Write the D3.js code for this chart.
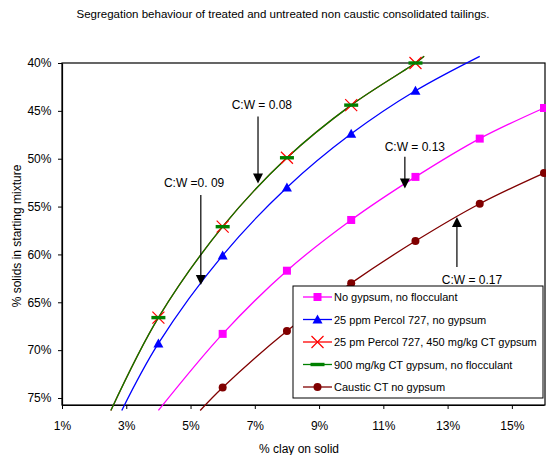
<!DOCTYPE html>
<html><head><meta charset="utf-8">
<script src="https://cdn.jsdelivr.net/npm/d3@7"></script>
<style>
body{margin:0;background:#fff;}
text{font-family:"Liberation Sans",Arial,sans-serif;fill:#000;}
</style></head>
<body><svg id="c" width="546" height="455"></svg>
<script>
// ---- data ----
const clayPct = [0.04, 0.06, 0.08, 0.10, 0.12, 0.14, 0.16];
const noGypsum      = [null, 0.683, 0.617, 0.564, 0.519, 0.479, 0.447];
const percolOnly    = [0.693, 0.601, 0.530, 0.474, 0.429, null, null];
const percolGypsum  = [0.666, 0.571, 0.499, 0.444, 0.400, null, null];
const gypsumOnly    = [0.666, 0.571, 0.499, 0.444, 0.400, null, null];
const causticCT     = [null, 0.739, 0.680, 0.630, 0.586, 0.547, 0.515];
// smoothed line extension points: [x, y]
const noGypsumExt     = [[0.040, 0.763], null];
const percolOnlyExt   = [[0.0286, 0.763], [0.140, 0.393]];
const percolGypsumExt = [[0.0252, 0.763], [0.1227, 0.393]];
const gypsumOnlyExt   = [[0.0252, 0.763], [0.1227, 0.393]];
const causticCTExt    = [[0.053, 0.763], null];

const seriesNames = ["No gypsum, no flocculant", "25 ppm Percol 727, no gypsum",
  "25 pm Percol 727, 450 mg/kg CT gypsum", "900 mg/kg CT gypsum, no flocculant", "Caustic CT no gypsum"];
const seriesColors = ["#FF00FF", "#0000FF", "#FF0000", "#008000", "#800000"];
const seriesMarkers = ["square", "triangle", "cross", "dash", "circle"];
const seriesValues = [noGypsum, percolOnly, percolGypsum, gypsumOnly, causticCT];
const seriesExt = [noGypsumExt, percolOnlyExt, percolGypsumExt, gypsumOnlyExt, causticCTExt];

const xTicks = [0.01, 0.03, 0.05, 0.07, 0.09, 0.11, 0.13, 0.15];
const yTicks = [0.40, 0.45, 0.50, 0.55, 0.60, 0.65, 0.70, 0.75];

const annLabels = ["C:W = 0.08", "C:W =0. 09", "C:W = 0.13", "C:W = 0.17"];
const annText   = [[0.0722, 0.444], [0.0511, 0.525], [0.1198, 0.488], [0.1376, 0.627]];
const annFrom   = [[0.0710, 0.456], [0.0532, 0.538], [0.1167, 0.498], [0.1329, 0.613]];
const annTip    = [[0.0710, 0.526], [0.0532, 0.632], [0.1167, 0.531], [0.1329, 0.561]];

const title = "Segregation behaviour of treated and untreated non caustic consolidated tailings.";
const xTitle = "% clay on solid";
const yTitle = "% solids in starting mixture";

// ---- layout ----
const L = 62, R = 544, T = 63, B = 405;
const svg = d3.select("#c");
const x = d3.scaleLinear().domain([0.01, 0.16]).range([L, R]);
const y = d3.scaleLinear().domain([0.40, 0.7573]).range([T, B]);
const pct = d3.format(".0%");

svg.append("text").attr("x", 283).attr("y", 18).attr("text-anchor", "middle")
  .style("font-size", "11.5px").text(title);

// border
svg.append("rect").attr("x", L).attr("y", T).attr("width", R - L + 1).attr("height", B - T)
  .attr("fill", "none").attr("stroke", "#000").attr("stroke-width", 1.2);

const yAxis = svg.append("g").attr("transform", `translate(${L},0)`)
  .call(d3.axisLeft(y).tickValues(yTicks).tickFormat(pct).tickSize(4).tickSizeOuter(0));
const xAxis = svg.append("g").attr("transform", `translate(0,${B})`)
  .call(d3.axisBottom(x).tickValues(xTicks).tickFormat(pct).tickSize(4).tickSizeOuter(0));
[xAxis, yAxis].forEach(g => {
  g.select(".domain").attr("stroke", "#000").attr("stroke-width", 1.2);
  g.selectAll("line").attr("stroke", "#000");
  g.selectAll("text").style("font-size", "12px").attr("fill", "#000")
    .style("font-family", "Liberation Sans, Arial, sans-serif");
});
xAxis.selectAll("text").attr("dy", "1.5em");
yAxis.selectAll("text").attr("dx", "-0.3em");

svg.append("text").attr("x", 299).attr("y", 453).attr("text-anchor", "middle")
  .style("font-size", "12px").text(xTitle);
svg.append("text").attr("transform", "translate(21,236) rotate(-90)").attr("text-anchor", "middle")
  .style("font-size", "12px").text(yTitle);

// ---- lines ----
const line = d3.line().x(d => x(d[0])).y(d => y(d[1])).curve(d3.curveCatmullRom.alpha(0.5));
function pts(i) {
  const p = [];
  clayPct.forEach((c, k) => { if (seriesValues[i][k] != null) p.push([c, seriesValues[i][k]]); });
  return p;
}
const drawOrder = [0, 1, 2, 3, 4];
drawOrder.forEach(i => {
  const p = pts(i);
  const full = [];
  if (seriesExt[i][0]) full.push(seriesExt[i][0]);
  full.push(...p);
  if (seriesExt[i][1]) full.push(seriesExt[i][1]);
  svg.append("path").attr("d", line(full)).attr("fill", "none")
    .attr("stroke", seriesColors[i]).attr("stroke-width", 1.3);
});

function marker(g, type, color, cx, cy) {
  if (type === "square") g.append("rect").attr("x", cx - 4).attr("y", cy - 4).attr("width", 8).attr("height", 8).attr("fill", color);
  else if (type === "triangle") g.append("path").attr("d", `M${cx},${cy - 5}L${cx + 5},${cy + 4}L${cx - 5},${cy + 4}Z`).attr("fill", color);
  else if (type === "circle") g.append("circle").attr("cx", cx).attr("cy", cy).attr("r", 4).attr("fill", color);
  else if (type === "cross") g.append("path").attr("d", `M${cx - 6},${cy - 6}L${cx + 6},${cy + 6}M${cx - 6},${cy + 6}L${cx + 6},${cy - 6}`).attr("stroke", color).attr("stroke-width", 1.2);
  else if (type === "dash") g.append("rect").attr("x", cx - 7).attr("y", cy - 1.7).attr("width", 14).attr("height", 3.4).attr("fill", color);
}
const mg = svg.append("g");
drawOrder.forEach(i => {
  pts(i).forEach(d => marker(mg, seriesMarkers[i], seriesColors[i], x(d[0]), y(d[1])));
});

// ---- annotations ----
const ag = svg.append("g");
annLabels.forEach((lab, i) => {
  ag.append("text").attr("x", x(annText[i][0])).attr("y", y(annText[i][1]) + 4)
    .attr("text-anchor", "middle").style("font-size", "12px").text(lab);
  const x0 = x(annFrom[i][0]), y0 = y(annFrom[i][1]), y1 = y(annTip[i][1]);
  const dir = y1 > y0 ? 1 : -1;
  ag.append("line").attr("x1", x0).attr("x2", x0).attr("y1", y0).attr("y2", y1 - dir * 8)
    .attr("stroke", "#000").attr("stroke-width", 1.2);
  ag.append("path").attr("d", `M${x0},${y1}L${x0 - 5},${y1 - dir * 10}L${x0 + 5},${y1 - dir * 10}Z`).attr("fill", "#000");
});

// ---- legend ----
const lg = svg.append("g");
lg.append("rect").attr("x", 293).attr("y", 286).attr("width", 250).attr("height", 112)
  .attr("fill", "#fff").attr("stroke", "#000").attr("stroke-width", 1);
seriesNames.forEach((n, i) => {
  const yy = 297 + i * 22.5;
  lg.append("line").attr("x1", 303).attr("x2", 332).attr("y1", yy).attr("y2", yy)
    .attr("stroke", seriesColors[i]).attr("stroke-width", 1.3);
  marker(lg, seriesMarkers[i], seriesColors[i], 317.5, yy);
  lg.append("text").attr("x", 334).attr("y", yy + 4).style("font-size", "11px").text(n);
});
</script></body></html>
